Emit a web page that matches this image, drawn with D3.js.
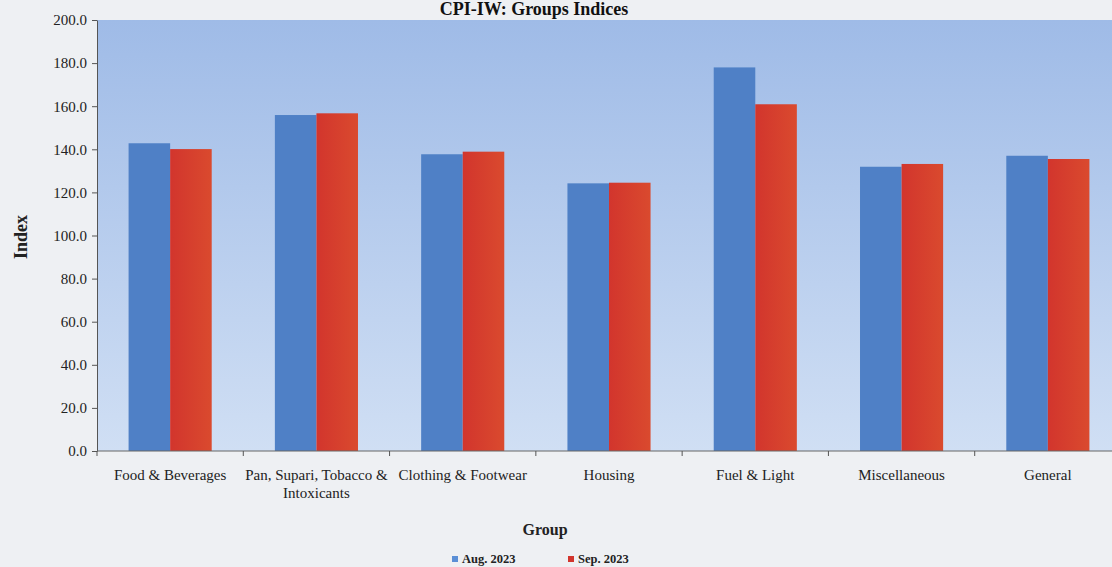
<!DOCTYPE html>
<html>
<head>
<meta charset="utf-8">
<script src="https://cdn.jsdelivr.net/npm/d3@7"></script>
<style>
  html, body { margin: 0; padding: 0; background: #eef0f3; }
  svg { display: block; font-family: "Liberation Serif", "Times New Roman", serif; }
</style>
</head>
<body>
<div id="chart"></div>
<script>
// values
const groups = [
  ['Food & Beverages'],
  ['Pan, Supari, Tobacco &', 'Intoxicants'],
  ['Clothing & Footwear'],
  ['Housing'],
  ['Fuel & Light'],
  ['Miscellaneous'],
  ['General']
];
const seriesNames = ['Aug. 2023', 'Sep. 2023'];
const aug2023 = [142.8, 155.9, 137.7, 124.2, 178.0, 131.9, 137.0];
const sep2023 = [140.1, 156.7, 138.9, 124.5, 160.9, 133.2, 135.5];
const yTicks = [0, 20, 40, 60, 80, 100, 120, 140, 160, 180, 200];

const width = 1112;
const height = 567;
const margin = { top: 20, left: 97, bottom: 116 };
const plotRight = 1121; // plot runs past the right edge of the photo

const svg = d3.select('#chart')
  .append('svg')
  .attr('width', width)
  .attr('height', height);

const defs = svg.append('defs');
const grad = defs.append('linearGradient')
  .attr('id', 'bg')
  .attr('x1', 0).attr('y1', 0).attr('x2', 0).attr('y2', 1);
grad.append('stop').attr('offset', '0%').attr('stop-color', '#9fbbe7');
grad.append('stop').attr('offset', '100%').attr('stop-color', '#d0dff4');

const redGrad = defs.append('linearGradient')
  .attr('id', 'red')
  .attr('x1', 0).attr('y1', 0).attr('x2', 1).attr('y2', 0);
redGrad.append('stop').attr('offset', '0%').attr('stop-color', '#d2352d');
redGrad.append('stop').attr('offset', '100%').attr('stop-color', '#da4a2e');

const labels = groups.map(g => g.join(' '));
const data = labels.map((g, i) => ({ group: g, lines: groups[i], values: [aug2023[i], sep2023[i]] }));

const x0 = d3.scaleBand()
  .domain(labels)
  .range([margin.left, plotRight]);

const x1 = d3.scaleBand()
  .domain(seriesNames)
  .range([0, x0.bandwidth()])
  .paddingOuter(0.76);

const y = d3.scaleLinear()
  .domain([0, 200])
  .range([height - margin.bottom, margin.top]);

const color = d3.scaleOrdinal()
  .domain(seriesNames)
  .range(['#4f80c6', 'url(#red)']);

// Plot background
svg.append('rect')
  .attr('x', margin.left)
  .attr('y', y(200))
  .attr('width', plotRight - margin.left)
  .attr('height', y(0) - y(200))
  .attr('fill', 'url(#bg)');

// Bars
svg.append('g')
  .selectAll('g')
  .data(data)
  .join('g')
  .attr('transform', d => `translate(${x0(d.group)},0)`)
  .selectAll('rect')
  .data(d => d.values.map((v, i) => ({ key: seriesNames[i], value: v })))
  .join('rect')
  .attr('x', d => x1(d.key))
  .attr('y', d => y(d.value))
  .attr('width', x1.bandwidth())
  .attr('height', d => y(0) - y(d.value))
  .attr('fill', d => color(d.key));

// y axis
const yAxis = svg.append('g')
  .attr('transform', `translate(${margin.left},0)`)
  .call(d3.axisLeft(y).tickValues(yTicks).tickFormat(d3.format('.1f')).tickSize(5).tickSizeOuter(0));
yAxis.select('.domain').attr('stroke', '#555');
yAxis.selectAll('line').attr('stroke', '#555');
yAxis.selectAll('text')
  .attr('x', -10)
  .style('font-family', '"Liberation Serif", serif')
  .style('font-size', '15px')
  .attr('fill', '#222');

// x axis: ticks on the category boundaries
const xAxis = svg.append('g')
  .attr('transform', `translate(0,${y(0)})`);
xAxis.append('line')
  .attr('x1', margin.left).attr('x2', plotRight)
  .attr('stroke', '#666');
xAxis.selectAll('.tick')
  .data(labels)
  .join('line')
  .attr('x1', d => x0(d)).attr('x2', d => x0(d))
  .attr('y1', 0).attr('y2', 5)
  .attr('stroke', '#555');

const xLabels = svg.append('g')
  .selectAll('text')
  .data(data)
  .join('text')
  .attr('x', d => x0(d.group) + x0.bandwidth() / 2)
  .attr('y', y(0) + 29)
  .attr('text-anchor', 'middle')
  .style('font-size', '15px')
  .attr('fill', '#222');
xLabels.selectAll('tspan')
  .data(d => d.lines)
  .join('tspan')
  .attr('x', function () { return d3.select(this.parentNode).attr('x'); })
  .attr('dy', (d, i) => i === 0 ? 0 : 18)
  .text(d => d);

// axis titles
svg.append('text')
  .attr('transform', 'rotate(-90)')
  .attr('x', -237)
  .attr('y', 27)
  .attr('text-anchor', 'middle')
  .style('font-size', '18px')
  .style('font-weight', 'bold')
  .attr('fill', '#222')
  .text('Index');

svg.append('text')
  .attr('x', 545)
  .attr('y', 535)
  .attr('text-anchor', 'middle')
  .style('font-size', '16px')
  .style('font-weight', 'bold')
  .attr('fill', '#222')
  .text('Group');

// Title
svg.append('text')
  .attr('x', 534)
  .attr('y', 15)
  .attr('text-anchor', 'middle')
  .style('font-size', '18px')
  .style('font-weight', 'bold')
  .attr('fill', '#111')
  .text('CPI-IW: Groups Indices');

// Legend
const legendX = [452, 568];
const legend = svg.append('g');
seriesNames.forEach((key, i) => {
  const g = legend.append('g').attr('transform', `translate(${legendX[i]},556)`);
  g.append('rect')
    .attr('width', 6)
    .attr('height', 6)
    .attr('fill', i === 0 ? '#5b8fd6' : '#d2352d');
  g.append('text')
    .attr('x', 10)
    .attr('y', 7)
    .style('font-size', '12.5px')
    .style('font-weight', 'bold')
    .attr('fill', '#222')
    .text(key);
});
</script>
</body>
</html>
